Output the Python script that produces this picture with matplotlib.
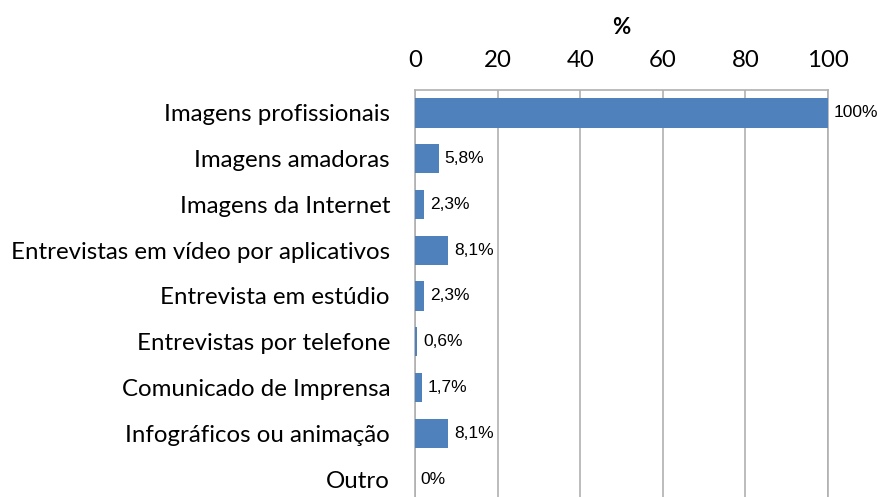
import matplotlib.pyplot as plt

categories = [
    "Imagens profissionais",
    "Imagens amadoras",
    "Imagens da Internet",
    "Entrevistas em vídeo por aplicativos",
    "Entrevista em estúdio",
    "Entrevistas por telefone",
    "Comunicado de Imprensa",
    "Infográficos ou animação",
    "Outro",
]
values = [100, 5.8, 2.3, 8.1, 2.3, 0.6, 1.7, 8.1, 0]
value_labels = ["100%", "5,8%", "2,3%", "8,1%", "2,3%", "0,6%", "1,7%", "8,1%", "0%"]
xticks = [0, 20, 40, 60, 80, 100]

fig = plt.figure(figsize=(8.77, 4.97), dpi=100)
ax = fig.add_axes([415 / 877, 1 - 502 / 497, 413 / 877, 412 / 497])

ypos = list(range(len(categories)))
ax.barh(ypos, values, height=0.64, color="#4f81bd", zorder=3)

# value labels just right of each bar end
for y, v, lab in zip(ypos, values, value_labels):
    ax.annotate(lab, (v, y), xytext=(4, 0), textcoords="offset points",
                va="center", ha="left", fontsize=12.5,
                family="Liberation Sans", color="black")

ax.set_xlim(0, 100)
ax.set_ylim(len(categories) - 0.5, -0.5)
ax.set_yticks(ypos)
ax.set_yticklabels(categories, fontsize=17.3, family="Lato")
ax.set_xticks(xticks)
ax.set_xticklabels([str(t) for t in xticks], fontsize=17.3, family="Lato")
ax.xaxis.tick_top()
ax.xaxis.set_label_position("top")
ax.set_xlabel("%", fontsize=16, fontweight="bold", family="Lato", labelpad=11)
ax.tick_params(axis="x", length=0, pad=14)
ax.tick_params(axis="y", length=0, pad=18)

ax.grid(axis="x", color="#b0b0b0", linewidth=1.2, zorder=0)
for side in ["left", "top", "right"]:
    ax.spines[side].set_color("#b0b0b0")
    ax.spines[side].set_linewidth(1.2)
ax.spines["bottom"].set_visible(False)

fig.savefig("out.png", dpi=100)
